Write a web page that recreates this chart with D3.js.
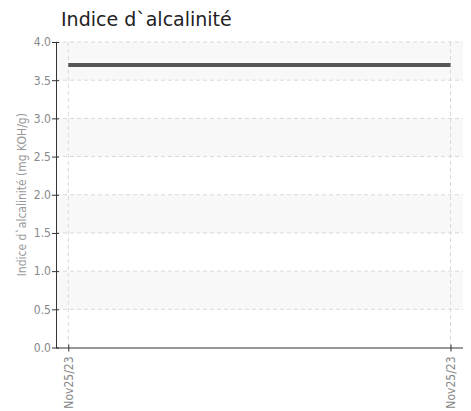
<!DOCTYPE html>
<html><head><meta charset="utf-8">
<script src="https://cdn.jsdelivr.net/npm/d3@7"></script>
<style>
body{margin:0;background:#fff;}
svg{display:block;}
</style></head>
<body>
<svg id="c" width="471" height="411"></svg>
<script>
const title = "Indice d`alcalinité";
const yLabel = "Indice d`alcalinité (mg KOH/g)";
const dates = ["Nov25/23", "Nov25/23"];
const values = [3.7, 3.7];
const yTicks = [0, 0.5, 1.0, 1.5, 2.0, 2.5, 3.0, 3.5, 4.0];

const svg = d3.select("#c");
const m = {l:56, r:8, t:42, b:63};
const W = 471, H = 411;
const x = d3.scaleLinear().domain([0, dates.length-1]).range([68.3, 450.5]);
const y = d3.scaleLinear().domain([0, 4]).range([347.5, 42]);
const x0 = m.l, x1 = W - m.r;
const cond = "'DejaVu Sans Condensed','DejaVu Sans'";

// bands
const g = svg.append("g");
for (let i = 0; i < yTicks.length-1; i++) {
  if (i % 2 === 1) {
    g.append("rect").attr("x", x0).attr("width", x1-x0)
      .attr("y", y(yTicks[i+1])).attr("height", y(yTicks[i]) - y(yTicks[i+1]))
      .attr("fill", "#f8f8f8");
  }
}
// horizontal grid
g.selectAll(".hg").data(yTicks.slice(1)).join("line")
  .attr("x1", x0).attr("x2", x1).attr("y1", d=>y(d)).attr("y2", d=>y(d))
  .attr("stroke", "#d9d9d9").attr("stroke-dasharray", "4,3");
// vertical grid
g.selectAll(".vg").data(dates.map((d,i)=>i)).join("line")
  .attr("x1", d=>x(d)).attr("x2", d=>x(d)).attr("y1", y(4)).attr("y2", y(0))
  .attr("stroke", "#d9d9d9").attr("stroke-dasharray", "4,3");

// line
const line = d3.line().x((d,i)=>x(i)).y(d=>y(d));
svg.append("path").datum(values).attr("d", line)
  .attr("fill", "none").attr("stroke", "#555").attr("stroke-width", 4);

// y axis
const ya = svg.append("g").attr("transform", `translate(${x0},0)`)
  .call(d3.axisLeft(y).tickValues(yTicks).tickFormat(d3.format(".1f")).tickSize(4).tickSizeOuter(0));
ya.select(".domain").attr("stroke", "#333");
ya.selectAll(".tick line").attr("stroke", "#333").attr("x2", 3).attr("x1", -4);
ya.selectAll(".tick text").attr("fill", "#888").attr("x", -5)
  .style("font-family", cond).style("font-size", "12px");

// x axis
const xa = svg.append("g").attr("transform", `translate(0,${y(0)})`)
  .call(d3.axisBottom(x).tickValues(dates.map((d,i)=>i)).tickFormat(i=>dates[i]).tickSize(4).tickSizeOuter(0));
xa.select(".domain").attr("d", `M${x0},0.5H${x1}`).attr("stroke", "#333");
xa.selectAll(".tick line").attr("stroke", "#333").attr("y1", -3).attr("y2", 4);
xa.selectAll(".tick text").attr("fill", "#888")
  .attr("transform", "rotate(-90)").attr("text-anchor", "end").attr("x", -9).attr("y", 0).attr("dy", "0.35em")
  .style("font-family", cond).style("font-size", "12px");

// y label
svg.append("text").attr("transform", `translate(26,${(y(0)+y(4))/2}) rotate(-90)`)
  .attr("text-anchor", "middle").attr("fill", "#999")
  .style("font-family", cond).style("font-size", "12px")
  .text(yLabel);

// title
svg.append("text").attr("x", 61).attr("y", 26).attr("fill", "#222")
  .style("font-family", "'DejaVu Sans'").style("font-size", "19px")
  .text(title);
</script>
</body></html>
